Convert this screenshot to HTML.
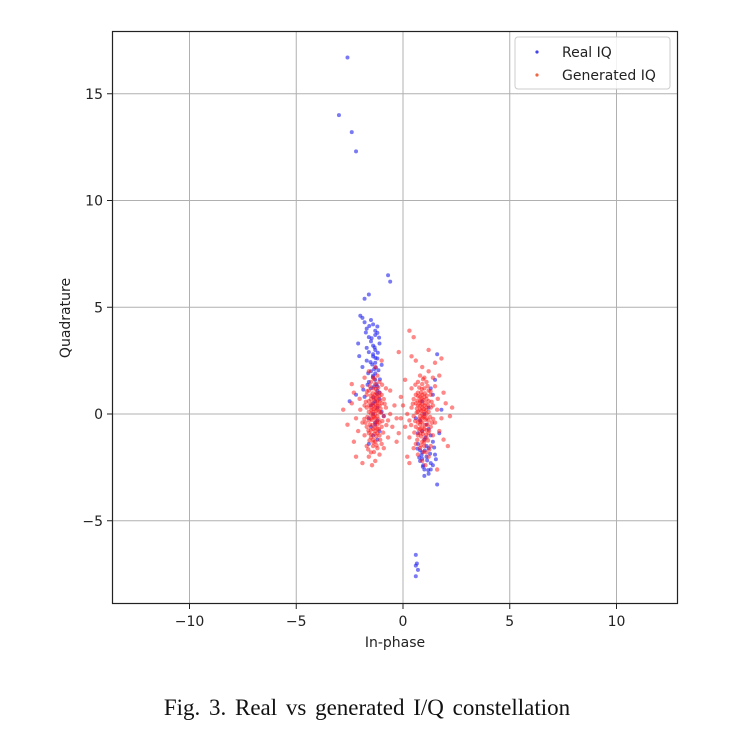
<!DOCTYPE html>
<html><head><meta charset="utf-8"><style>
html,body{margin:0;padding:0;background:#fff;}
svg{display:block;}
text{font-family:"DejaVu Sans","Liberation Sans",sans-serif;}
</style></head><body>
<svg id="chart" width="734" height="752" viewBox="0 0 734 752">
<rect width="734" height="752" fill="#fff"/>
<g id="grid"></g>
<g id="ticks"></g>
<g id="pts"></g>
<rect x="112.5" y="31.5" width="565" height="572" fill="none" stroke="#222" stroke-width="1.2"/>
<g>
<rect x="515" y="37" width="155" height="52" rx="3" fill="#fff" fill-opacity="0.85" stroke="#ccc"/>
<circle cx="537" cy="52" r="1.6" fill="#4444ee"/>
<text x="562" y="57" font-size="14" fill="#222">Real IQ</text>
<circle cx="537" cy="75" r="1.6" fill="#ee6644"/>
<text x="562" y="80" font-size="14" fill="#222">Generated IQ</text>
</g>
<text x="395" y="647" font-size="14" text-anchor="middle" fill="#222">In-phase</text>
<text transform="translate(70,318) rotate(-90)" font-size="14" text-anchor="middle" fill="#222">Quadrature</text>
<text x="367" y="715" font-size="23" text-anchor="middle" fill="#111" style="font-family:'Liberation Serif',serif;word-spacing:3px">Fig. 3.  Real vs generated I/Q constellation</text>
</svg>
<script>
const xTicks=[-10,-5,0,5,10];
const yTicks=[-5,0,5,10,15];
const realPoints=[[-2.6,16.7],[-3.0,14.0],[-2.4,13.2],[-2.2,12.3],[-0.7,6.5],[-0.6,6.2],[-1.6,5.6],[-1.8,5.4],[0.6,-6.6],[0.6,-7.1],[0.7,-7.3],[0.6,-7.6],[0.65,-7.0],
[-2.0,4.6],[-1.9,4.5],[-1.8,4.3],[-1.7,4.0],[-1.5,4.4],[-1.4,4.2],[-1.3,3.9],[-1.6,3.6],[-1.2,3.8],[-1.5,3.4],[-1.4,3.2],[-1.3,3.0],[-1.1,3.3],[-1.6,2.9],[-1.7,2.5],[-1.9,2.2],[-1.4,2.7],[-1.2,2.6],[-1.3,2.4],[-1.5,2.0],[-1.0,2.3],[-1.4,1.8],[-1.6,1.5],[-1.3,1.6],[-1.2,1.3],[-1.1,1.0],[-1.5,1.2],[-1.8,0.8],[-1.3,0.6],[-1.4,0.5],[-1.2,0.3],[-1.0,0.1],[-1.6,-0.2],[-1.3,-0.4],[-1.5,-0.6],[-1.1,-0.8],[-1.4,-1.0],[-1.2,-1.2],[-2.2,0.9],[-1.3,-0.5],[-1.4,0.0],[-1.5,0.4],[-1.2,-0.3],[-1.3,1.9],[-1.1,0.7],[-1.6,-1.4],[-1.4,2.8],[-1.3,3.7],[-0.9,-0.1],[-1.2,1.1],[-2.5,0.6],[-1.7,3.1],[-1.2,4.1],[-2.1,3.3],[-1.35,2.1],[-1.25,1.4],
[-1.47,3.55],[-1.33,3.12],[-1.18,2.87],[-1.52,2.43],[-1.27,2.18],[-1.41,1.73],[-1.63,1.91],[-1.08,1.62],[-1.36,1.28],[-1.22,0.94],[-1.74,3.82],[-1.12,3.58],[-1.58,4.12],[-1.29,2.63],[-1.44,2.32],[-1.15,2.05],[-1.66,1.37],[-1.38,0.77],[-2.05,2.71],[-1.86,1.14],
[1.6,2.8],[1.5,1.6],[1.3,1.2],[1.4,0.9],[0.9,0.6],[1.2,0.3],[1.0,0.0],[0.8,-0.3],[1.1,-0.5],[0.9,-0.8],[1.3,-1.0],[1.0,-1.2],[0.7,-1.4],[1.2,-1.6],[0.9,-1.8],[1.1,-2.0],[0.8,-2.2],[1.4,-2.4],[1.0,-2.6],[1.2,-2.8],[0.9,-2.1],[1.5,-1.9],[1.3,-2.3],[0.7,-0.9],[1.1,-1.5],[1.0,-2.9],[1.6,-3.3],[0.8,-1.7],[1.4,-1.3],[1.2,-0.7],[0.6,-0.2],[1.7,-0.9],[1.8,0.2],[1.3,-2.6],[0.95,-2.4],[1.05,-1.1],
[0.87,-1.93],[1.13,-2.17],[0.76,-2.04],[1.02,-1.71],[1.27,-1.86],[0.93,-2.47],[1.18,-2.63],[0.68,-1.62],[1.46,-1.57],[1.54,-2.12]];
const genPoints=[
[-1.3,0.0],[-1.5,0.3],[-1.1,-0.4],[-1.4,0.8],[-1.2,-0.9],[-1.6,0.1],[-1.0,0.5],[-1.3,-0.2],[-1.7,-0.6],[-1.4,1.2],[-1.2,0.6],[-0.9,-0.1],[-1.8,0.4],[-1.5,-1.1],[-1.1,1.0],[-1.3,0.9],[-1.6,-0.3],[-1.2,0.2],[-1.4,-0.7],[-1.0,-0.6],[-2.0,0.2],[-1.5,1.5],[-1.3,-1.3],[-0.8,0.3],[-1.7,0.9],[-1.1,0.4],[-1.4,-0.1],[-1.2,-0.5],[-1.6,0.6],[-1.3,1.4],[-1.9,-0.4],[-0.7,-0.3],[-1.5,-0.2],[-1.2,1.8],[-1.4,0.4],[-1.1,-1.0],[-1.6,-0.9],[-1.3,0.3],[-1.0,0.9],[-2.2,-0.2],[-1.5,0.0],[-1.2,-0.1],[-1.4,-1.5],[-1.7,0.3],[-0.9,0.7],[-1.3,-0.8],[-1.1,0.1],[-1.6,1.1],[-2.4,0.5],[-0.6,0.0],[-1.3,2.2],[-1.5,-1.8],[-1.2,-1.6],[-1.8,-1.0],[-1.0,-1.4],[-1.4,1.7],[-0.5,-0.6],[-2.1,-0.8],[-1.6,2.0],[-1.3,-2.2],[-1.9,1.3],[-0.8,1.2],[-1.1,-1.9],[-1.5,0.7],[-1.2,0.8],[-1.4,0.1],[-1.3,-0.4],[-1.25,0.15],[-1.35,-0.15],[-1.45,0.5],[-1.15,-0.25],[-1.05,0.25],[-1.55,-0.5],[-1.2,-0.7],[-1.35,0.65],[-0.4,0.4],[-2.6,-0.5],[-1.0,2.5],[-1.7,-1.5],[-0.7,-1.1],[-1.45,-2.4],[-2.3,1.0],[-1.25,1.0],[-1.4,-1.2],[-0.3,-0.2],[-0.9,-1.6],[-1.6,-2.0],[-1.8,1.7],[-1.1,1.5],[-1.3,0.45],[-1.5,-0.75],[-1.25,-1.05],
[-1.37,0.23],[-1.22,-0.37],[-1.58,0.41],[-1.08,0.63],[-1.43,-0.52],[-1.67,-0.14],[-1.13,-0.71],[-1.28,1.17],[-1.51,0.86],[-0.97,-0.33],[-1.74,0.57],[-1.33,-0.93],[-1.19,0.38],[-1.46,-0.27],[-1.62,-0.77],[-1.04,0.06],[-1.27,0.72],[-1.55,1.31],[-0.86,0.48],[-1.39,-1.33],[-1.81,-0.23],[-1.16,1.24],[-1.48,0.18],[-1.31,-0.63],[-0.93,-0.87],[-1.69,1.06],[-1.24,-1.47],[-1.57,-1.24],[-1.11,0.84],[-1.42,0.97],[-2.03,0.71],[-0.78,-0.52],[-1.34,1.63],[-1.63,-1.66],[-1.07,-1.21],[-1.49,-0.96],[-1.21,0.53],[-1.76,-0.41],[-0.98,1.37],[-1.36,-1.78],
[0.9,0.0],[1.1,0.3],[0.7,-0.4],[1.0,0.8],[0.8,-0.9],[1.2,0.1],[0.6,0.5],[0.9,-0.2],[1.3,-0.6],[1.0,1.2],[0.8,0.6],[0.5,-0.1],[1.4,0.4],[1.1,-1.1],[0.7,1.0],[0.9,0.9],[1.2,-0.3],[0.8,0.2],[1.0,-0.7],[0.6,-0.6],[1.6,0.2],[1.1,1.5],[0.9,-1.3],[0.4,0.3],[1.3,0.9],[0.7,0.4],[1.0,-0.1],[0.8,-0.5],[1.2,0.6],[0.9,1.4],[1.5,-0.4],[0.3,-0.3],[1.1,-0.2],[0.8,1.8],[1.0,0.4],[0.7,-1.0],[1.2,-0.9],[0.9,0.3],[0.6,0.9],[1.8,-0.2],[1.1,0.0],[0.8,-0.1],[1.0,-1.5],[1.3,0.3],[0.5,0.7],[0.9,-0.8],[0.7,0.1],[1.2,1.1],[2.0,0.5],[0.2,0.0],[0.9,2.2],[1.1,-1.8],[0.8,-1.6],[1.4,-1.0],[0.6,-1.4],[1.0,1.7],[0.1,-0.6],[1.7,-0.8],[1.2,2.0],[0.9,-2.2],[1.5,1.3],[0.4,1.2],[0.7,-1.9],[1.1,0.7],[0.8,0.8],[1.0,0.1],[0.9,-0.4],[0.85,0.15],[0.95,-0.15],[1.05,0.5],[0.75,-0.25],[0.65,0.25],[1.15,-0.5],[0.8,-0.7],[0.95,0.65],[0.0,0.4],[2.1,-1.5],[0.6,2.5],[1.3,-1.5],[0.3,-1.1],[1.05,-2.4],[1.9,1.0],[0.85,1.0],[1.0,-1.2],[-0.1,-0.2],[0.5,-1.6],[1.2,-2.0],[1.4,1.7],[0.7,1.5],[0.9,0.45],[1.1,-0.75],[0.85,-1.05],
[0.97,0.23],[0.82,-0.37],[1.18,0.41],[0.68,0.63],[1.03,-0.52],[1.27,-0.14],[0.73,-0.71],[0.88,1.17],[1.11,0.86],[0.57,-0.33],[1.34,0.57],[0.93,-0.93],[0.79,0.38],[1.06,-0.27],[1.22,-0.77],[0.64,0.06],[0.87,0.72],[1.15,1.31],[0.46,0.48],[0.99,-1.33],[1.41,-0.23],[0.76,1.24],[1.08,0.18],[0.91,-0.63],[0.53,-0.87],[1.29,1.06],[0.84,-1.47],[1.17,-1.24],[0.71,0.84],[1.02,0.97],[1.63,0.71],[0.38,-0.52],[0.94,1.63],[1.23,-1.66],[0.67,-1.21],[1.09,-0.96],[0.81,0.53],[1.36,-0.41],[0.58,1.37],[0.96,-1.78],
[0.3,3.9],[0.5,3.6],[1.2,3.0],[0.4,2.7],[1.8,2.6],[-0.2,2.9],[1.5,2.4],[0.2,-2.0],[-2.2,-2.0],[-2.8,0.2],[-0.3,-1.3],[1.6,-2.6],[0.1,1.6],[1.7,1.8],[-0.2,-0.9],[2.2,-0.1],[-1.9,-2.3],[-2.4,1.4],[-0.6,1.1],[0.3,-2.3],[1.9,-1.2],[-2.3,-1.3],[-0.1,0.8],[2.3,0.3]];
const X0=403,Y0=414,S=21.35;
const xs=v=>X0+v*S, ys=v=>Y0-v*S;
const NS='http://www.w3.org/2000/svg';
const grid=document.getElementById('grid'),ticks=document.getElementById('ticks'),pts=document.getElementById('pts');
function mk(tag,attrs,parent){const e=document.createElementNS(NS,tag);for(const k in attrs)e.setAttribute(k,attrs[k]);parent.appendChild(e);return e;}
xTicks.forEach(t=>{
  const g=mk('line',{x1:xs(t),x2:xs(t),y1:31,y2:604,stroke:'#b0b0b0','stroke-width':1},grid);
  
  
  mk('line',{x1:xs(t),x2:xs(t),y1:604,y2:609,stroke:'#222'},ticks);
  const tx=mk('text',{x:xs(t),y:626,'font-size':14,'text-anchor':'middle',fill:'#222'},ticks);
  tx.textContent=t<0?'\u2212'+(-t):String(t);
  
  
});
yTicks.forEach(t=>{
  const g=mk('line',{x1:112,x2:678,y1:ys(t),y2:ys(t),stroke:'#b0b0b0','stroke-width':1},grid);
  
  
  mk('line',{x1:107,x2:112,y1:ys(t),y2:ys(t),stroke:'#222'},ticks);
  const tx=mk('text',{x:103,y:ys(t)+5,'font-size':14,'text-anchor':'end',fill:'#222'},ticks);
  tx.textContent=t<0?'\u2212'+(-t):String(t);
  
  
});
realPoints.forEach(p=>{
  const c=mk('circle',{cx:xs(p[0]),cy:ys(p[1]),r:2,fill:'#2222ee','fill-opacity':0.6},pts);
  
  
});
genPoints.forEach(p=>{
  const c=mk('circle',{cx:xs(p[0]),cy:ys(p[1]),r:2.2,fill:'#ff1111','fill-opacity':0.5},pts);
  
  
});
</script>
</body></html>
